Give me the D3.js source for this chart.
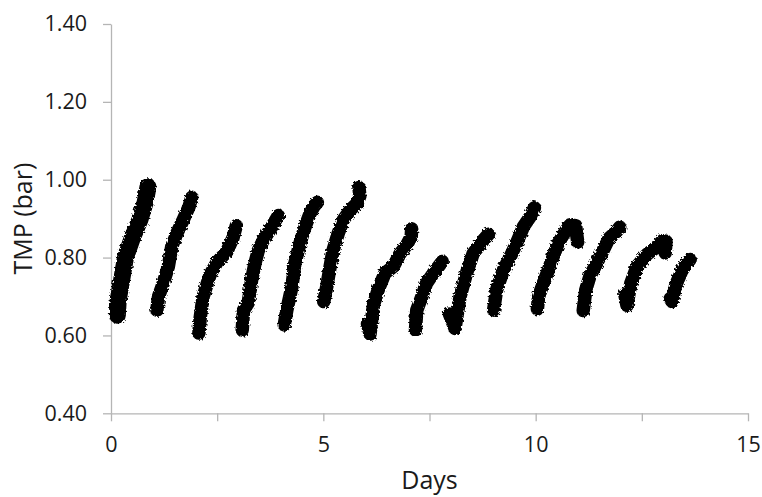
<!DOCTYPE html>
<html>
<head>
<meta charset="utf-8">
<script src="https://cdn.jsdelivr.net/npm/d3@7"></script>
<style>
    body { margin: 0; background: #fff; }
    text { font-family: "Open Sans", sans-serif; fill: #1a1a1a; }
</style>
</head>
<body>
<div id="grafico"></div>
<script>

// TMP readings per filtration cycle, [day, TMP in bar]
const ciclo01 = [[0.15, 0.652], [0.17, 0.691], [0.25, 0.742], [0.34, 0.800], [0.50, 0.850], [0.68, 0.897], [0.80, 0.940], [0.85, 0.968], [0.87, 0.982]]
const ciclo02 = [[1.08, 0.665], [1.12, 0.700], [1.23, 0.734], [1.35, 0.777], [1.43, 0.828], [1.55, 0.862], [1.70, 0.897], [1.84, 0.931], [1.90, 0.955]]
const ciclo03 = [[2.07, 0.606], [2.10, 0.645], [2.17, 0.700], [2.33, 0.755], [2.50, 0.789], [2.72, 0.814], [2.87, 0.850], [2.95, 0.882]]
const ciclo04 = [[3.09, 0.614], [3.12, 0.665], [3.23, 0.683], [3.31, 0.742], [3.39, 0.785], [3.47, 0.819], [3.59, 0.845], [3.74, 0.871], [3.86, 0.893], [3.94, 0.908]]
const ciclo05 = [[4.08, 0.627], [4.14, 0.665], [4.26, 0.725], [4.33, 0.785], [4.45, 0.837], [4.57, 0.879], [4.69, 0.914], [4.78, 0.932], [4.86, 0.942]]
const ciclo06 = [[5.01, 0.687], [5.08, 0.725], [5.16, 0.777], [5.23, 0.819], [5.35, 0.862], [5.47, 0.897], [5.63, 0.922], [5.79, 0.939], [5.86, 0.958], [5.84, 0.980]]
const ciclo07 = [[6.04, 0.630], [6.10, 0.604], [6.18, 0.678], [6.29, 0.717], [6.45, 0.760], [6.65, 0.777], [6.81, 0.811], [6.96, 0.832], [7.07, 0.854], [7.08, 0.874]]
const ciclo08 = [[7.17, 0.614], [7.20, 0.665], [7.32, 0.700], [7.43, 0.734], [7.59, 0.760], [7.71, 0.777], [7.80, 0.790]]
const ciclo09 = [[7.97, 0.655], [8.10, 0.618], [8.22, 0.700], [8.38, 0.763], [8.53, 0.811], [8.77, 0.845], [8.89, 0.860]]
const ciclo10 = [[9.01, 0.665], [9.08, 0.717], [9.24, 0.768], [9.40, 0.802], [9.55, 0.837], [9.71, 0.879], [9.87, 0.905], [9.97, 0.928]]
const ciclo11 = [[10.04, 0.668], [10.07, 0.700], [10.18, 0.734], [10.30, 0.768], [10.41, 0.802], [10.53, 0.837], [10.69, 0.866], [10.81, 0.884], [10.94, 0.882], [10.99, 0.840]]
const ciclo12 = [[11.12, 0.664], [11.18, 0.717], [11.28, 0.753], [11.44, 0.786], [11.59, 0.819], [11.73, 0.850], [11.91, 0.868], [11.98, 0.878]]
const ciclo13 = [[12.10, 0.705], [12.15, 0.677], [12.24, 0.734], [12.39, 0.778], [12.61, 0.807], [12.85, 0.828], [12.98, 0.843], [13.07, 0.842], [13.05, 0.812]]
const ciclo14 = [[13.17, 0.695], [13.21, 0.687], [13.30, 0.730], [13.44, 0.766], [13.56, 0.787], [13.64, 0.795]]

const ciclos = [ciclo01, ciclo02, ciclo03, ciclo04, ciclo05, ciclo06, ciclo07,
                ciclo08, ciclo09, ciclo10, ciclo11, ciclo12, ciclo13, ciclo14]

// Axis ticks and labels
const ticksX = [0, 2.5, 5, 7.5, 10, 12.5, 15]
const rotulosX = [0, 5, 10, 15]
const ticksY = [0.4, 0.6, 0.8, 1.0, 1.2, 1.4]


function graficar(id_area) {

    const largura = 762
    const altura = 497
    const margin = { top: 24, right: 14, bottom: 84, left: 111 }

    const svg = d3.select(`#${id_area}`).append('svg')
        .attr('width', largura)
        .attr('height', altura)

    // Rough edge so the bands look like a cloud of markers
    const filtro = svg.append('defs').append('filter')
        .attr('id', 'aspero')
        .attr('x', '-10%').attr('y', '-10%')
        .attr('width', '120%').attr('height', '120%')
    filtro.append('feTurbulence')
        .attr('type', 'fractalNoise')
        .attr('baseFrequency', 0.45)
        .attr('numOctaves', 2)
        .attr('seed', 3)
        .attr('result', 'ruido')
    filtro.append('feDisplacementMap')
        .attr('in', 'SourceGraphic')
        .attr('in2', 'ruido')
        .attr('scale', 4)

    // Scales
    const x = d3.scaleLinear().domain([0, 15]).range([margin.left, largura - margin.right])
    const y = d3.scaleLinear().domain([0.4, 1.4]).range([altura - margin.bottom + 0.3, margin.top])

    const corEixo = '#b5b5b5'

    // X axis (ticks every 2.5, labels only on 0, 5, 10, 15)
    const eixoX = svg.append('g')
        .attr('transform', `translate(0, ${y(0.4)})`)
        .call(d3.axisBottom(x).tickValues(ticksX).tickSize(8).tickSizeOuter(0)
            .tickFormat(d => rotulosX.includes(d) ? d : ''))
    eixoX.select('.domain').attr('stroke', corEixo).attr('stroke-width', 1.3)
    eixoX.selectAll('.tick line').attr('stroke', corEixo).attr('stroke-width', 1.3)
    eixoX.selectAll('.tick text')
        .attr('y', 23)
        .attr('font-size', 21.5)
        .attr('font-family', '"Open Sans", sans-serif')
        .attr('fill', '#1a1a1a')

    // Y axis
    const eixoY = svg.append('g')
        .attr('transform', `translate(${x(0)}, 0)`)
        .call(d3.axisLeft(y).tickValues(ticksY).tickSize(8).tickSizeOuter(0)
            .tickFormat(d3.format('.2f')))
    eixoY.select('.domain').attr('stroke', corEixo).attr('stroke-width', 1.3)
    eixoY.selectAll('.tick line').attr('stroke', corEixo).attr('stroke-width', 1.3)
    eixoY.selectAll('.tick text')
        .attr('x', -24)
        .attr('font-size', 21.5)
        .attr('font-family', '"Open Sans", sans-serif')
        .attr('fill', '#1a1a1a')

    // Data bands (dense markers in the original, drawn as thick strokes)
    const linha = d3.line()
        .x(d => x(d[0]))
        .y(d => y(d[1]))

    svg.append('g')
        .attr('filter', 'url(#aspero)')
        .selectAll('path')
        .data(ciclos)
        .join('path')
        .attr('d', linha)
        .attr('fill', 'none')
        .attr('stroke', '#000')
        .attr('stroke-width', (d, i) => i === 0 ? 17 : 13.5)
        .attr('stroke-linejoin', 'round')
        .attr('stroke-linecap', 'round')

    // Axis titles
    svg.append('text')
        .attr('x', (x(0) + x(15)) / 2)
        .attr('y', 489)
        .attr('text-anchor', 'middle')
        .attr('font-size', 25)
        .text('Days')

    svg.append('text')
        .attr('transform', `translate(32, ${(y(0.4) + y(1.4)) / 2}) rotate(-90)`)
        .attr('text-anchor', 'middle')
        .attr('font-size', 25)
        .text('TMP (bar)')
}

graficar('grafico')

</script>
</body>
</html>
